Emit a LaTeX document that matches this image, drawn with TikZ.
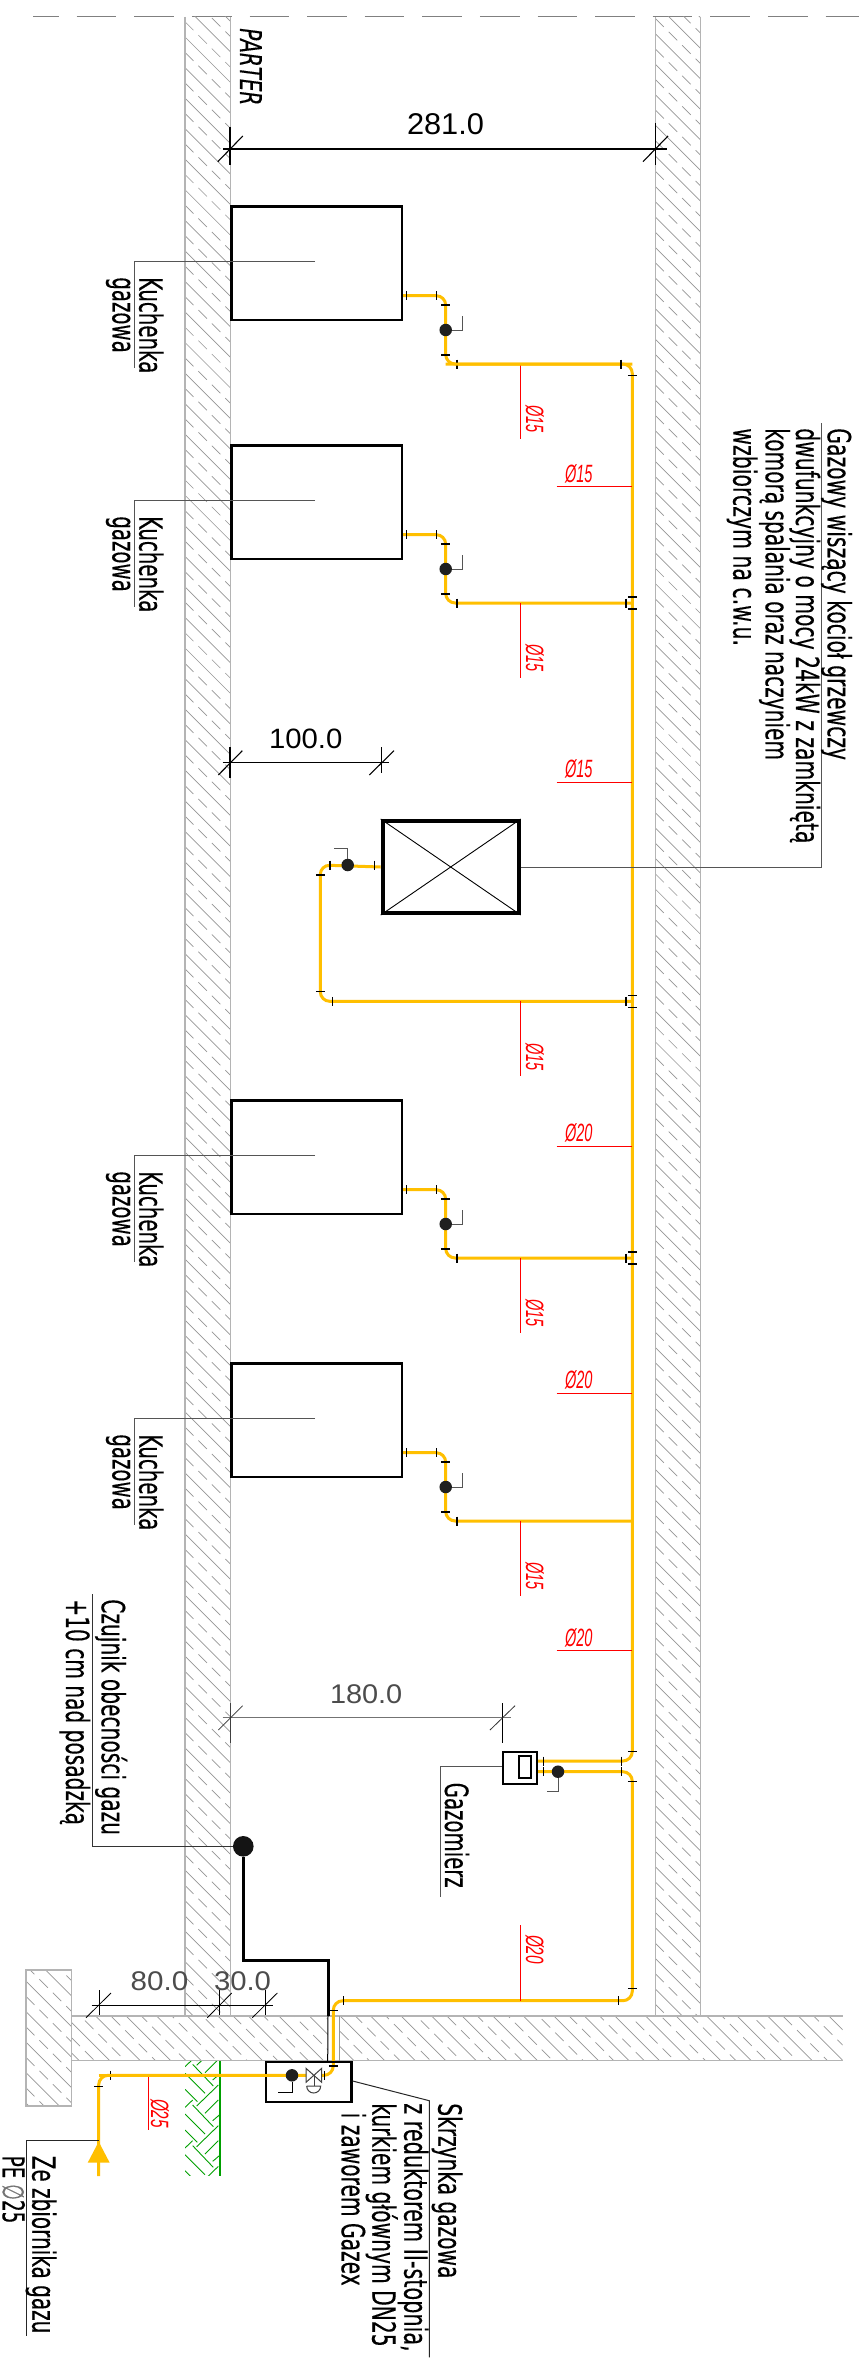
\documentclass[tikz,border=0pt]{standalone}
\usepackage{fontspec}
\usepackage{graphicx}
\setmainfont[FakeBold=0.35]{DejaVu Sans}
\newfontfamily\dimfont{Liberation Sans}
\definecolor{gaspipe}{HTML}{FFBF00}
\definecolor{wallgray}{HTML}{B4B4B4}
\definecolor{hatchgray}{HTML}{969696}
\definecolor{leadgray}{HTML}{555555}
\definecolor{hatchgreen}{HTML}{00A000}
\tikzset{
  pipe/.style={draw=gaspipe,line width=3pt,rounded corners=9.5pt},
  stovebox/.style={draw=black,line width=2.5pt,minimum width=170.4pt,minimum height=113.7pt,inner sep=0pt,anchor=north west},
  tickmark/.style={draw=black,line width=1.2pt},
  leader/.style={draw=leadgray,line width=1pt},
  redlead/.style={draw=red,line width=1pt},
  valvedot/.style={circle,fill=black!88,minimum size=12.5pt,inner sep=0pt},
  walledge/.style={draw=wallgray,line width=1.5pt},
  lbl/.style={rotate=-90,anchor=base west,inner sep=0pt,outer sep=0pt},
  hlbl/.style={anchor=base west,inner sep=0pt,outer sep=0pt},
}
% name, baseline x, start y, length, font size, text
\newcommand\rtxt[6]{\node[lbl] (#1) at (#2,#3) {\resizebox{#4pt}{\height}{\fontsize{#5}{#5}\selectfont #6}};}
\newcommand\htxt[6]{\node[hlbl] (#1) at (#2,#3) {\resizebox{#4pt}{\height}{\fontsize{#5}{#5}\selectfont #6}};}
\newcommand\tickv[2]{\draw[tickmark] (#1,#2-4.5) -- (#1,#2+4.5);}
\newcommand\tickh[2]{\draw[tickmark] (#1-4.5,#2) -- (#1+4.5,#2);}
% x1 y1 x2 y2 c0 kmin kmax
\newcommand\hatchregion[7]{%
  \begin{scope}
    \clip (#1,#2) rectangle (#3,#4);
    \foreach \k in {#6,...,#7}{%
      \pgfmathsetmacro\cc{#5+\k*30.55}%
      \pgfmathsetmacro\dd{\cc+15.3}%
      \draw[hatchgray,line width=0.7pt] (#1,{#1+\cc}) -- (#3,{#3+\cc});
      \draw[hatchgray,line width=0.7pt,dash pattern=on 12pt off 7pt] (#1,{#1+\dd}) -- (#3,{#3+\dd});
    }
  \end{scope}
}
% name, top y
\newcommand\stoveunit[2]{%
  \node[stovebox] (#1) at (230.3,#2) {};
  \coordinate (#1stub) at (#1.east |- 0,#2+90.7);
  \coordinate (#1el) at (445.7,#2+90.7);
  \coordinate (#1er) at (445.7,#2+159);
  \coordinate (#1main) at (632.3,#2+159);
  \draw[pipe] (#1stub) -- (#1el) -- (#1er) -- (#1main);
  \tickv{406.3}{#2+90.7}\tickv{436.7}{#2+90.7}
  \tickh{445.7}{#2+100}\tickh{445.7}{#2+150}
  \tickv{457}{#2+159}
  \node[valvedot] (#1dot) at (445.7,#2+125) {};
  \coordinate (#1da) at (462.7,#2+125);
  \coordinate (#1db) at (462.7,#2+111);
  \draw[leader] (#1dot) -- (#1da) -- (#1db);
  \coordinate (#1lead) at (315,#2+56.7);
  \coordinate (#1leada) at (134.3,#2+56.7);
  \coordinate (#1leadb) at (134.3,#2+163.3);
  \draw[leader] (#1lead) -- (#1leada) -- (#1leadb);
  \rtxt{#1ta}{139.3}{#2+72.3}{96}{32}{Kuchenka}
  \rtxt{#1tb}{112.5}{#2+72.3}{75.5}{32}{gazowa}
  \coordinate (#1ra) at (520.3,#2+159);
  \coordinate (#1rb) at (520.3,#2+234.3);
  \draw[redlead] (#1ra) -- (#1rb);
  \rtxt{#1dn}{526}{#2+200}{27.5}{25}{\dimfont\itshape\color{red}Ø15}
}
\newcommand\mainlabel[3]{%
  \coordinate (m#1a) at (556.7,#2);
  \coordinate (m#1b) at (632.3,#2);
  \draw[redlead] (m#1a) -- (m#1b);
  \htxt{m#1t}{565}{#2-4.6}{27.5}{25}{\dimfont\itshape\color{red}Ø#3}
}
\newcommand\teeticks[1]{\tickv{626}{#1}\tickh{632.3}{#1-6}\tickh{632.3}{#1+6}}
\begin{document}
\begin{tikzpicture}[x=1pt,y=-1pt]
\useasboundingbox (0,0) rectangle (859,2371);
\fill[white] (0,0) rectangle (859,2371);
% level line
\draw[draw=black!50,line width=1pt,dash pattern=on 39.6pt off 18pt,dash phase=13.9pt] (33,17) -- (859,17);
% walls hatch
\hatchregion{185}{17}{230.3}{2016}{-148}{-3}{65}
\hatchregion{655.3}{17}{700.7}{2016}{1303}{-65}{2}
\hatchregion{71.5}{2016}{842.7}{2060.7}{1401}{-8}{20}
\hatchregion{26}{1970}{71.5}{2106}{1955}{-2}{5}
\fill[white] (327.7,2015) rectangle (339.3,2060);
\draw[walledge] (185,17) -- (185,2016);
\draw[walledge] (230.3,17) -- (230.3,2016);
\draw[walledge] (655.3,17) -- (655.3,2016);
\draw[walledge] (700.7,17) -- (700.7,2016);
\draw[walledge] (71.5,2016) -- (842.7,2016);
\draw[walledge] (71.5,2060.7) -- (842.7,2060.7);
\draw[walledge] (26,1970) rectangle (71.5,2106);
\draw[hatchgray,line width=1.2pt] (339.3,2016) -- (339.3,2061);
% ground
\begin{scope}
  \clip (185,2061) rectangle (220,2175.5);
  \foreach \k in {-2,...,3}{%
    \pgfmathsetmacro\s{\k*122}%
    \foreach \xa/\ya/\xb/\yb in {80/168/145/105,45/118/82/155,45/172/68/150,68/165/130/230,105/190/145/150,128/212/148/195,45/192/105/252}{%
      \draw[hatchgreen,line width=0.9pt] ({170+\xa/3},{2050+(\ya+\s)/3}) -- ({170+\xb/3},{2050+(\yb+\s)/3});
    }
  }
\end{scope}
\draw[hatchgreen,line width=2.3pt] (220,2061) -- (220,2175.5);
% top texts
\rtxt{parter}{240}{28.3}{77}{30}{\itshape PARTER}
% 281 dim
\coordinate (da) at (223.4,148.7);
\coordinate (db) at (667,148.7);
\draw[black,line width=2pt] (da) -- (db);
\draw[black,line width=2pt] (230.3,127) -- (230.3,165);
\draw[black,line width=1.3pt] (655.3,123) -- (655.3,165);
\draw[black,line width=1.1pt] (217.8,161.7) -- (242.8,136);
\draw[black,line width=1.1pt] (643,161.7) -- (668,136);
\htxt{d281}{407}{135}{77}{30}{\dimfont 281.0}
% stoves
\stoveunit{st1}{205}
\stoveunit{st2}{444}
\stoveunit{st3}{1099}
\stoveunit{st4}{1362}
% main pipes
\draw[pipe] (st1er) -- (632.3,364) -- (632.3,1761) -- (536,1761);
\draw[pipe] (536,1771.7) -- (632.3,1771.7) -- (632.3,2000.7) -- (333.3,2000.7) -- (333.3,2075.3) -- (322,2075.3);
\tickv{621}{364}\tickh{632.3}{375.7}
\teeticks{603}\teeticks{1258}
\tickv{618.7}{2000.7}\tickh{632.3}{1988.7}
\tickv{343.3}{2000.7}\tickh{333.3}{2010.7}\tickh{333.3}{2066}\tickv{324.3}{2075.3}
\tickv{543.3}{1761}\tickv{543.3}{1771.7}\tickv{621.7}{1761}\tickv{621.7}{1771.7}
\tickh{632.3}{1751.7}\tickh{632.3}{1781.3}
% main labels
\mainlabel{a}{486.7}{15}
\mainlabel{b}{782.3}{15}
\mainlabel{c}{1146}{20}
\mainlabel{d}{1393}{20}
\mainlabel{e}{1650.7}{20}
% boiler
\node[draw=black,line width=4pt,minimum width=136pt,minimum height=92pt,inner sep=0pt,anchor=north west] (boiler) at (380.7,819) {};
\draw[black,line width=0.9pt] (boiler.north west) -- (boiler.south east);
\draw[black,line width=0.9pt] (boiler.north east) -- (boiler.south west);
\coordinate (bpa) at (320.3,865);
\coordinate (bpb) at (320.3,1001.3);
\coordinate (bpc) at (632.3,1001.3);
\draw[pipe] (boiler.west) -- (bpa) -- (bpb) -- (bpc);
\tickv{330}{865}\tickv{374.7}{865}\tickh{320.3}{875}\tickh{320.3}{991.7}\tickv{332.7}{1001.3}
\teeticks{1001.3}
\node[valvedot] (bdot) at (347.7,865) {};
\coordinate (bla) at (347.7,848);
\coordinate (blb) at (334,848);
\draw[leader] (bdot) -- (bla) -- (blb);
\coordinate (bld) at (821.7,423.3);
\draw[leader] (boiler.east) -- (boiler.east -| bld) -- (bld);
\coordinate (bre) at (520.3,1001.3);
\coordinate (brf) at (520.3,1076);
\draw[redlead] (bre) -- (brf);
\rtxt{bdn}{526}{1043}{27.5}{25}{\dimfont\itshape\color{red}Ø15}
\rtxt{bt1}{827.7}{428.3}{331.7}{32}{Gazowy wiszący kocioł grzewczy}
\rtxt{bt2}{796}{428.3}{415}{32}{dwufunkcyjny o mocy 24kW z zamkniętą}
\rtxt{bt3}{765.7}{428.3}{331.7}{32}{komorą spalania oraz naczyniem}
\rtxt{bt4}{733.3}{428.3}{217.7}{32}{wzbiorczym na c.w.u.}
% dim 100
\coordinate (ea) at (222.7,762.7);
\coordinate (eb) at (389.3,762.7);
\draw[black,line width=1.5pt] (ea) -- (eb);
\draw[black,line width=1.8pt] (230.3,747) -- (230.3,778);
\draw[black,line width=1pt] (381.3,747) -- (381.3,773);
\draw[black,line width=1.1pt] (218.3,775) -- (242.3,750.7);
\draw[black,line width=1.1pt] (369.3,775) -- (394,750.7);
\htxt{d100}{269}{748.3}{73.3}{28}{\dimfont 100.0}
% dim 180
\coordinate (fa) at (222.7,1717.7);
\coordinate (fb) at (510.7,1717.7);
\draw[black!55,line width=1.5pt] (fa) -- (fb);
\draw[black!75,line width=1pt] (230.3,1703) -- (230.3,1743);
\draw[black,line width=0.8pt] (502.7,1703) -- (502.7,1743);
\draw[black!80,line width=0.8pt] (218.3,1730) -- (242.7,1705.7);
\draw[black!80,line width=0.8pt] (490,1730) -- (515,1705.7);
\htxt{d180}{330}{1703}{72.3}{27}{\dimfont\color{black!70}180.0}
% dim 80 30
\coordinate (ga) at (91.7,2005);
\coordinate (gb) at (272.7,2005);
\draw[black,line width=0.8pt] (ga) -- (gb);
\draw[black,line width=0.8pt] (99,1990) -- (99,2015);
\draw[black,line width=0.8pt] (219.7,1990) -- (219.7,2015);
\draw[black,line width=0.8pt] (265,1990) -- (265,2015);
\draw[black,line width=0.8pt] (86,2017.7) -- (111,1993);
\draw[black,line width=0.8pt] (207.3,2017.7) -- (231.7,1993);
\draw[black,line width=0.8pt] (252.3,2017.7) -- (277.3,1993);
\htxt{d80}{130.7}{1990.7}{57.6}{27}{\dimfont\color{black!70}80.0}
\htxt{d30}{214}{1990.7}{57}{27}{\dimfont\color{black!70}30.0}
% gas meter
\node[draw=black,line width=2pt,minimum width=33.7pt,minimum height=32pt,inner sep=0pt,anchor=north west] (meter) at (502,1750.7) {};
\node[draw=black,line width=1.7pt,minimum width=11.7pt,minimum height=22pt,inner sep=0pt,anchor=north west] (meterin) at (518.3,1755) {};
\node[valvedot] (mdot) at (558,1771.7) {};
\coordinate (mla) at (558,1791);
\coordinate (mlb) at (546.7,1791);
\draw[leader] (mdot) -- (mla) -- (mlb);
\coordinate (mlc) at (440,1766.3);
\coordinate (mld) at (440,1897);
\draw[leader] (meter.west |- mlc) -- (mlc) -- (mld);
\rtxt{gaz}{445}{1782.7}{105}{32}{Gazomierz}
\coordinate (ra) at (520.3,2000.7);
\coordinate (rb) at (520.3,1925);
\draw[redlead] (ra) -- (rb);
\rtxt{r20}{526}{1935}{29}{25}{\dimfont\itshape\color{red}Ø20}
% sensor
\node[circle,fill=black!92,minimum size=20.6pt,inner sep=0pt] (sens) at (243.3,1846.3) {};
\coordinate (wa) at (243.3,1960);
\coordinate (wb) at (328,1960);
\coordinate (wc) at (328,2016);
\coordinate (wd) at (327.7,2061);
\draw[black,line width=3pt] (sens) -- (wa) -- (wb) -- (wc);
\draw[black,line width=1pt] (wc) -- (wd);
\coordinate (sa) at (92.3,1846.3);
\coordinate (sb) at (92.3,1594);
\draw[black!80,line width=1pt] (sens) -- (sa) -- (sb);
\rtxt{cz1}{101.7}{1599.3}{235.7}{32}{Czujnik obecności gazu}
\rtxt{cz2}{66}{1599.3}{225.7}{32}{+10 cm nad posadzką}
% supply
\coordinate (pa) at (98.7,2176);
\coordinate (pb) at (98.7,2075.3);
\coordinate (pc) at (306,2075.3);
\draw[pipe] (pa) -- (pb) -- (pc);
\fill[gaspipe] (98.7,2141.7) -- (109.7,2162.7) -- (87.7,2162.7) -- cycle;
\tickv{110.7}{2075.3}\tickh{98.7}{2086.7}
\coordinate (pd) at (148.7,2075.3);
\coordinate (pe) at (148.7,2130);
\draw[redlead] (pd) -- (pe);
\rtxt{r25}{151}{2099}{29}{25}{\dimfont\itshape\color{red}Ø25}
\coordinate (za) at (98.7,2140.3);
\coordinate (zb) at (26,2140.3);
\coordinate (zc) at (26,2336);
\draw[black!85,line width=1pt] (za) -- (zb) -- (zc);
\rtxt{ze1}{32.3}{2155.7}{177.6}{32}{Ze zbiornika gazu}
\rtxt{ze2}{2.7}{2155.7}{67.6}{30}{PE {\color{black!55}∅}25}
% box
\node[draw=black,line width=2.4pt,minimum width=85.3pt,minimum height=39.5pt,inner sep=0pt,anchor=north west] (skrz) at (265,2061) {};
\draw[pipe] (pb) -- (pc);
\node[valvedot] (sdot) at (292,2075.3) {};
\coordinate (sla) at (292,2092);
\coordinate (slb) at (278,2092);
\draw[leader,draw=black] (sdot) -- (sla) -- (slb);
\coordinate (vc) at (314,2075.3);
\draw[black!75,line width=1pt] (306,2068.3) -- (321.7,2082.3) -- (321.7,2068.3) -- (306,2082.3) -- cycle;
\draw[black!75,line width=1pt] (vc) -- (314,2086);
\draw[black!75,line width=1pt] (306.7,2086) -- (320.7,2086) arc[start angle=0,end angle=180,radius=7];
\coordinate (ka) at (429.3,2100.7);
\coordinate (kb) at (429.3,2357.3);
\draw[black!85,line width=1pt] (skrz.east |- 0,2081) -- (ka) -- (kb);
\rtxt{sk1}{438.3}{2103.3}{175}{32}{Skrzynka gazowa}
\rtxt{sk2}{404.3}{2103.3}{248.4}{32}{z reduktorem II-stopnia,}
\rtxt{sk3}{372.3}{2103.3}{243.4}{32}{kurkiem głównym DN25}
\rtxt{sk4}{341.7}{2112.7}{173}{32}{i zaworem Gazex}
\end{tikzpicture}
\end{document}
